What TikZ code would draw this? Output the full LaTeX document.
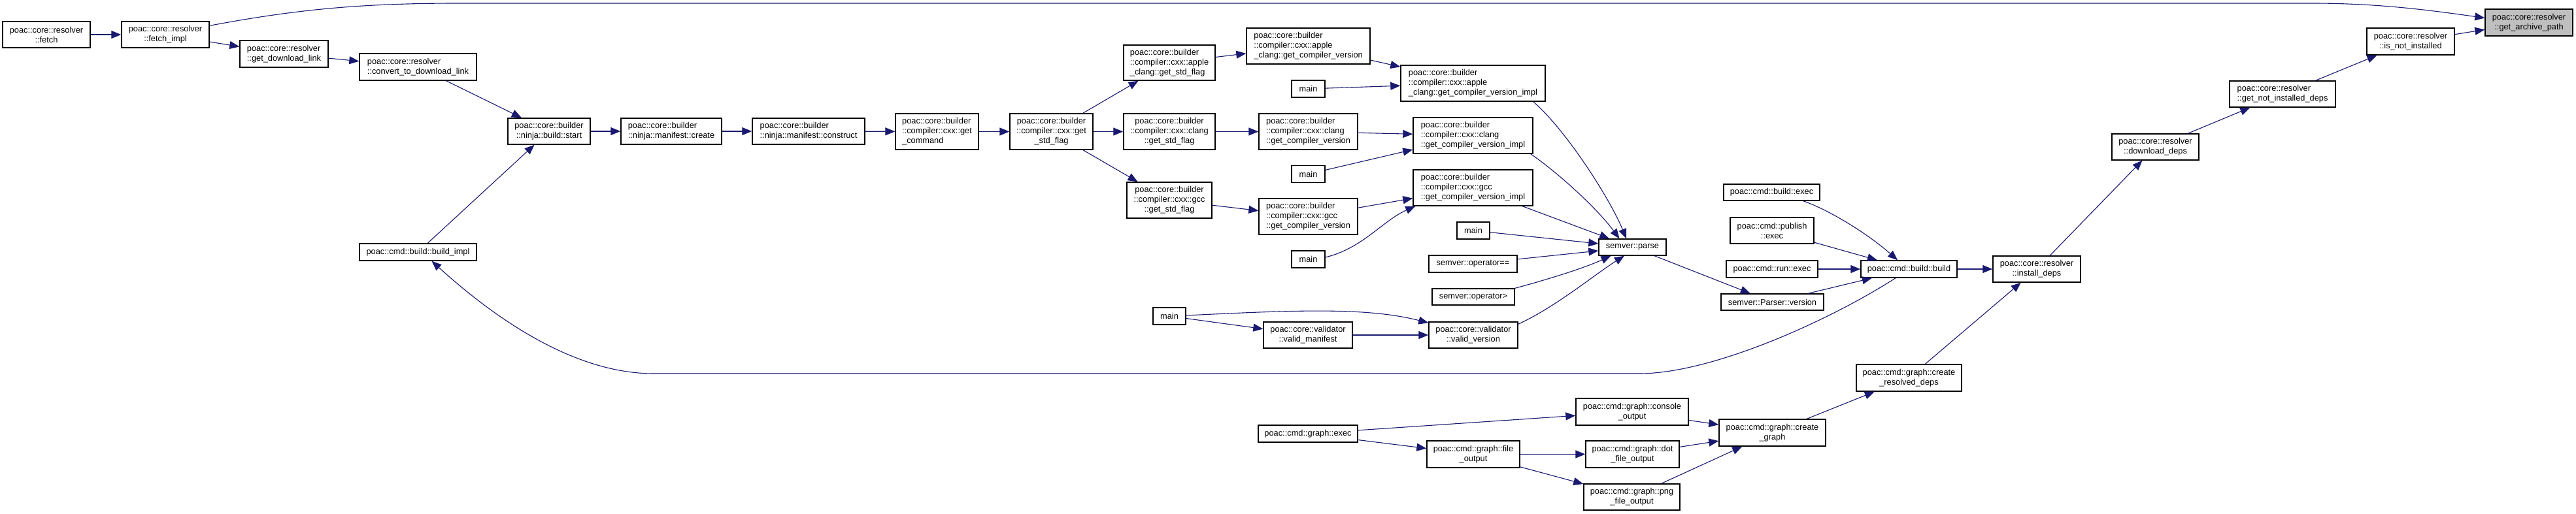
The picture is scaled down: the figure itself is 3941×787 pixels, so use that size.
\documentclass[tikz,border=0pt]{standalone}
\usepackage{fontspec}
\setmainfont{Liberation Sans}
\usetikzlibrary{arrows.meta,calc}
\definecolor{edgec}{HTML}{191970}
\definecolor{hl}{HTML}{BFBFBF}
\begin{document}
\begin{tikzpicture}[x=0.5pt,y=-0.5pt,
  box/.style={draw=black, line width=0.7pt, fill=white, inner sep=0pt, font=\fontsize{6.4pt}{7.5pt}\selectfont, align=center},
  lbox/.style={box, align=left},
  wh/.style 2 args={minimum width=#1*0.5pt, minimum height=#2*0.5pt},
  conn/.style={draw=edgec, line width=0.55pt, -{Triangle[length=7.5pt,width=6pt]}}]
\useasboundingbox (0,0) rectangle (3941,787);
\fill[white] (0,0) rectangle (3941,787);

\node[box, wh={134}{40}] (fetch) at (71,53) {poac::core::resolver\\::fetch};
\node[box, wh={134}{40}] (fetchimpl) at (253,53) {poac::core::resolver\\::fetch\_impl};
\node[lbox, wh={135}{41}] (gdl) at (434.5,82.5) {poac::core::resolver\\::get\_download\_link};
\node[lbox, wh={179}{41}] (conv) at (639.5,102.5) {poac::core::resolver\\::convert\_to\_download\_link};
\node[box, wh={179}{26}] (bimpl) at (639.5,386) {poac::cmd::build::build\_impl};
\node[box, wh={126}{40}] (start) at (840,201) {poac::core::builder\\::ninja::build::start};
\node[lbox, wh={154}{40}] (mcreate) at (1027,201) {poac::core::builder\\::ninja::manifest::create};
\node[lbox, wh={172}{40}] (mconstr) at (1237,201) {poac::core::builder\\::ninja::manifest::construct};
\node[lbox, wh={127}{55}] (getcmd) at (1433.5,201.5) {poac::core::builder\\::compiler::cxx::get\\\_command};
\node[box, wh={127}{55}] (gsf) at (1608.5,201.5) {poac::core::builder\\::compiler::cxx::get\\\_std\_flag};
\node[lbox, wh={140}{54}] (agsf) at (1789,96) {poac::core::builder\\::compiler::cxx::apple\\\_clang::get\_std\_flag};
\node[box, wh={140}{55}] (cgsf) at (1789,201.5) {poac::core::builder\\::compiler::cxx::clang\\::get\_std\_flag};
\node[box, wh={130}{55}] (ggsf) at (1789,306.5) {poac::core::builder\\::compiler::cxx::gcc\\::get\_std\_flag};
\node[lbox, wh={189}{55}] (agcv) at (2001.5,70.5) {poac::core::builder\\::compiler::cxx::apple\\\_clang::get\_compiler\_version};
\node[box, wh={51}{26}] (mainA) at (2001.5,136) {main};
\node[lbox, wh={151}{55}] (cgcv) at (2001.5,201.5) {poac::core::builder\\::compiler::cxx::clang\\::get\_compiler\_version};
\node[box, wh={51}{26}] (mainB) at (2001.5,266.5) {main};
\node[lbox, wh={151}{55}] (ggcv) at (2001.5,331.5) {poac::core::builder\\::compiler::cxx::gcc\\::get\_compiler\_version};
\node[box, wh={51}{26}] (mainC) at (2001.5,397) {main};
\node[lbox, wh={221}{55}] (aimpl) at (2253.5,127.5) {poac::core::builder\\::compiler::cxx::apple\\\_clang::get\_compiler\_version\_impl};
\node[lbox, wh={183}{55}] (cimpl) at (2253.5,207.5) {poac::core::builder\\::compiler::cxx::clang\\::get\_compiler\_version\_impl};
\node[lbox, wh={183}{55}] (gimpl) at (2253.5,287.5) {poac::core::builder\\::compiler::cxx::gcc\\::get\_compiler\_version\_impl};
\node[box, wh={50}{26}] (mainD) at (2254,353) {main};
\node[box, wh={135}{26}] (opeq) at (2253.5,404) {semver::operator==};
\node[box, wh={126}{25}] (opgt) at (2254,454.5) {semver::operator>};
\node[box, wh={136}{40}] (vver) at (2254,513) {poac::core::validator\\::valid\_version};
\node[box, wh={103}{25}] (parse) at (2497.5,378.5) {semver::parse};
\node[box, wh={50}{26}] (mainE) at (1789,484) {main};
\node[box, wh={136}{40}] (vman) at (2001,513) {poac::core::validator\\::valid\_manifest};
\node[box, wh={147}{25}] (bexec) at (2710.5,294.5) {poac::cmd::build::exec};
\node[box, wh={128}{40}] (pexec) at (2711,353) {poac::cmd::publish\\::exec};
\node[box, wh={140}{26}] (rexec) at (2711,412) {poac::cmd::run::exec};
\node[box, wh={157}{25}] (pver) at (2711.5,462.5) {semver::Parser::version};
\node[box, wh={147}{26}] (bbuild) at (2920.5,412) {poac::cmd::build::build};
\node[box, wh={134}{40}] (ideps) at (3116,412) {poac::core::resolver\\::install\_deps};
\node[box, wh={161}{41}] (crd) at (2920.5,578.5) {poac::cmd::graph::create\\\_resolved\_deps};
\node[box, wh={133}{40}] (ddeps) at (3297.5,225) {poac::core::resolver\\::download\_deps};
\node[lbox, wh={162}{40}] (gnid) at (3492,144) {poac::core::resolver\\::get\_not\_installed\_deps};
\node[box, wh={134}{41}] (isni) at (3688,63.5) {poac::core::resolver\\::is\_not\_installed};
\node[box, wh={134}{41}, fill=hl] (gap) at (3869,34.5) {poac::core::resolver\\::get\_archive\_path};
\node[box, wh={152}{26}] (gexec) at (2001,664) {poac::cmd::graph::exec};
\node[box, wh={172}{41}] (cout) at (2497,630.5) {poac::cmd::graph::console\\\_output};
\node[box, wh={142}{41}] (fout) at (2254,695.5) {poac::cmd::graph::file\\\_output};
\node[box, wh={143}{41}] (dout) at (2497.5,695.5) {poac::cmd::graph::dot\\\_file\_output};
\node[box, wh={147}{40}] (pout) at (2496.5,761) {poac::cmd::graph::png\\\_file\_output};
\node[box, wh={163}{41}] (cgraph) at (2711.5,662.5) {poac::cmd::graph::create\\\_graph};

\draw[conn] (fetch) -- (fetchimpl);
\draw[conn] (fetchimpl) -- (gdl);
\draw[conn] (gdl) -- (conv);
\draw[conn] (conv) -- (start);
\draw[conn] (bimpl) -- (start);
\draw[conn] (start) -- (mcreate);
\draw[conn] (mcreate) -- (mconstr);
\draw[conn] (mconstr) -- (getcmd);
\draw[conn] (getcmd) -- (gsf);
\draw[conn] (gsf) -- (agsf);
\draw[conn] (gsf) -- (cgsf);
\draw[conn] (gsf) -- (ggsf);
\draw[conn] (agsf) -- (agcv);
\draw[conn] (cgsf) -- (cgcv);
\draw[conn] (ggsf) -- (ggcv);
\draw[conn] (agcv) -- (aimpl);
\draw[conn] (mainA) -- (aimpl);
\draw[conn] (cgcv) -- (cimpl);
\draw[conn] (mainB) -- (cimpl);
\draw[conn] (ggcv) -- (gimpl);
\draw[conn] ($(mainC.east)+(0,-3)$) .. controls (2085,380) and (2115,338) .. ($(gimpl.south west)+(4,0)$);
\draw[conn] ($(aimpl.south east)+(-19,0)$) .. controls (2395,198) and (2463,304) .. ($(parse.north)+(-9.5,0)$);
\draw[conn] ($(cimpl.south east)+(-4,0)$) .. controls (2380,262) and (2440,315) .. ($(parse.north)+(-20,0)$);
\draw[conn] (gimpl) -- (parse);
\draw[conn] (mainD) -- (parse);
\draw[conn] (opeq) -- (parse);
\draw[conn] (opgt.north east) .. controls (2360,430) and (2420,412) .. ($(parse.south)+(-33,0)$);
\draw[conn] ($(vver.north east)+(0,4)$) .. controls (2380,470) and (2440,420) .. ($(parse.south)+(-12.5,0)$);
\draw[conn] ($(mainE.east)+(0,-1)$) .. controls (1980,475) and (2090,470) .. ($(vver.north west)+(0,2)$);
\draw[conn] (mainE) -- (vman);
\draw[conn] (vman) -- (vver);
\draw[conn] (parse) -- (pver);
\draw[conn] ($(bexec.south east)+(-26,0)$) .. controls (2800,322) and (2860,360) .. ($(bbuild.north)+(-17.5,0)$);
\draw[conn] (pexec) -- (bbuild);
\draw[conn] (rexec) -- (bbuild);
\draw[conn] (pver) -- (bbuild);
\draw[conn] ($(bbuild.south)+(-20.5,0)$) .. controls (2800,490) and (2620,572) .. (2508,572) -- (1000,572) .. controls (880,572) and (760,490) .. ($(bimpl.south)+(21,0)$);
\draw[conn] (bbuild) -- (ideps);
\draw[conn] (ideps) -- (ddeps);
\draw[conn] (ddeps) -- (gnid);
\draw[conn] (gnid) -- (isni);
\draw[conn] (isni) -- (gap);
\draw[conn] ($(fetchimpl.north east)+(0,7)$) .. controls (450,15) and (550,5) .. (700,5) -- (3538,5) .. controls (3640,5) and (3720,16) .. ($(gap.west)+(0,-7)$);
\draw[conn] (crd) -- (ideps);
\draw[conn] (cgraph) -- (crd);
\draw[conn] (cout) -- (cgraph);
\draw[conn] (dout) -- (cgraph);
\draw[conn] (pout) -- (cgraph);
\draw[conn] (gexec) -- (cout);
\draw[conn] (gexec) -- (fout);
\draw[conn] (fout) -- (dout);
\draw[conn] (fout) -- (pout);
\end{tikzpicture}
\end{document}
